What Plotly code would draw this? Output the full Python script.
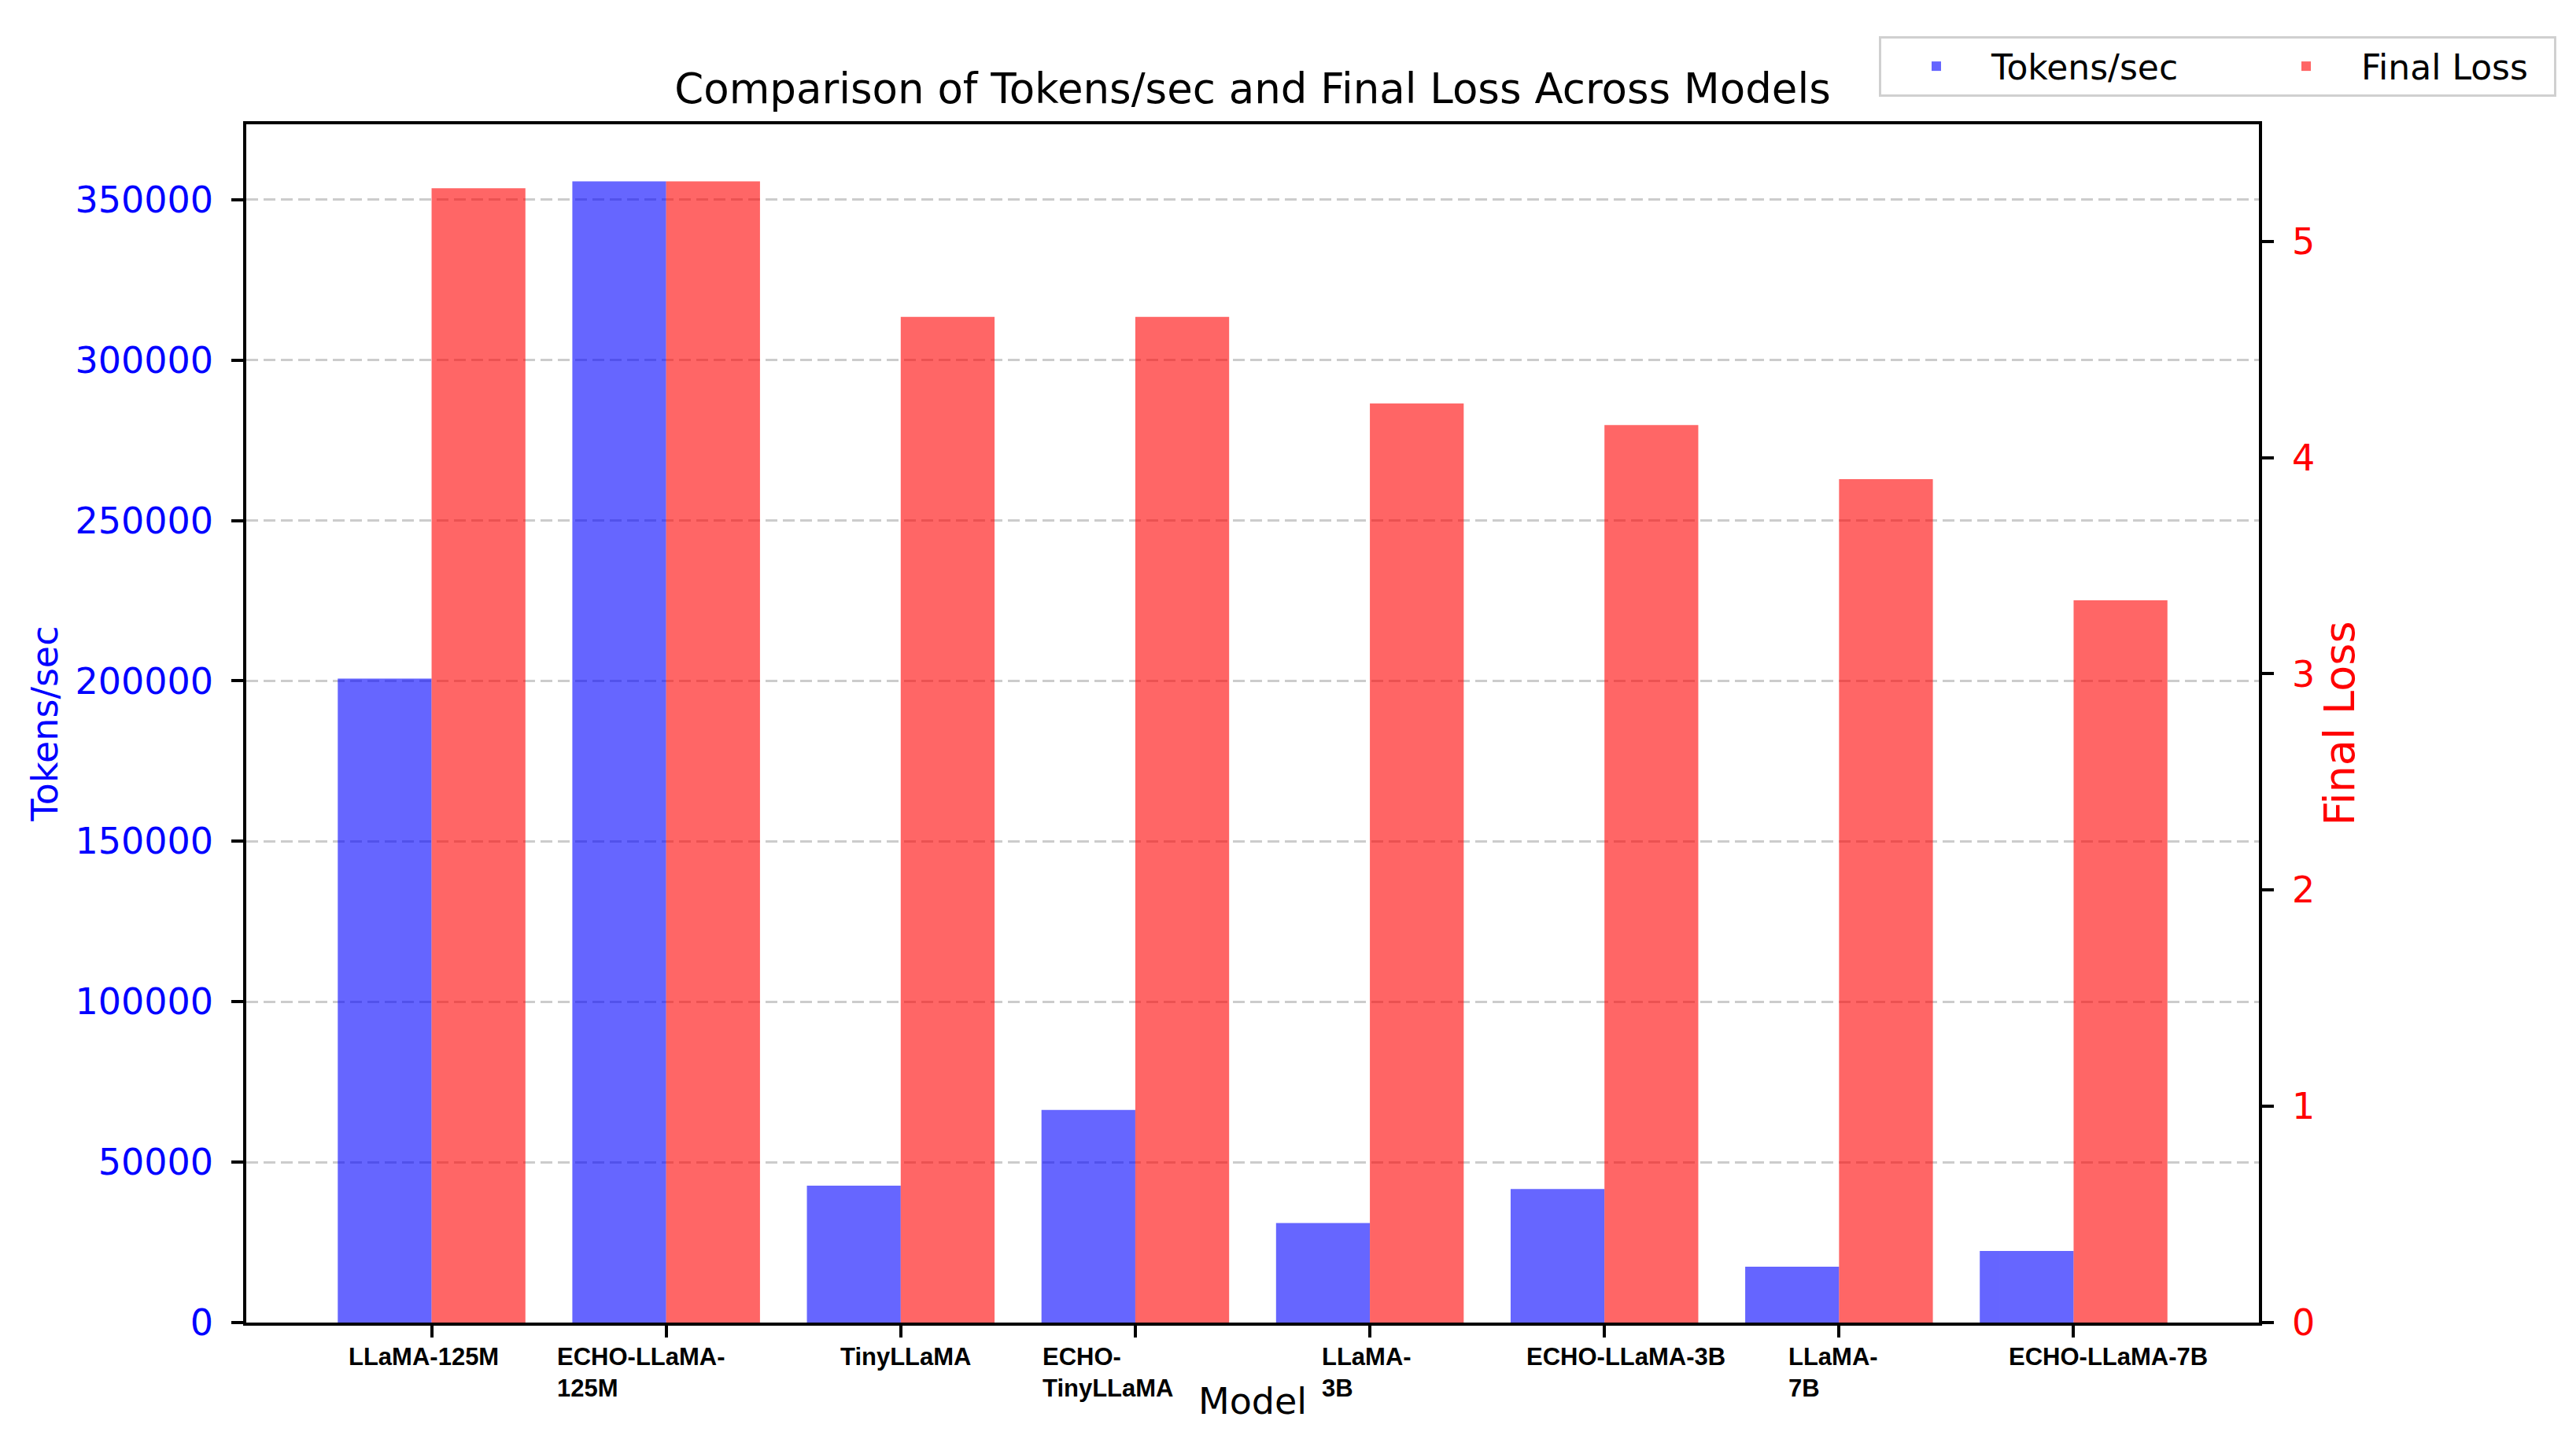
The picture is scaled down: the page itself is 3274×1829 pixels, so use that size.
import numpy as np
import plotly.graph_objects as go

# ---- data ----
models = ["LLaMA-125M", "ECHO-LLaMA-125M", "TinyLLaMA", "ECHO-TinyLLaMA",
          "LLaMA-3B", "ECHO-LLaMA-3B", "LLaMA-7B", "ECHO-LLaMA-7B"]
tick_labels = ["LLaMA-125M", "ECHO-LLaMA-<br>125M", "TinyLLaMA", "ECHO-<br>TinyLLaMA",
               "LLaMA-<br>3B", "ECHO-LLaMA-3B", "LLaMA-<br>7B", "ECHO-LLaMA-7B"]
tokens_per_sec = [200700, 355700, 42700, 66300, 31000, 41600, 17400, 22300]
final_loss = [5.245, 5.277, 4.65, 4.65, 4.25, 4.15, 3.90, 3.34]

# ---- style: horizontal nudge of each category label (px), as in the reference ----
label_xshift_px = [-10, -32, 7, -34, -4, 27, -7, 44]

W, H = 3274, 1829
ML, MR, MT, MB = 305, 411, 150, 156
PH = H - MT - MB
PW = W - ML - MR

x = np.arange(len(models))
bw = 0.4

fig = go.Figure()
fig.add_trace(go.Bar(
    x=x, y=tokens_per_sec, name="Tokens/sec", width=bw, offset=-bw,
    marker=dict(color="blue", line=dict(width=0)), opacity=0.6, yaxis="y",
    legendwidth=325,
))
fig.add_trace(go.Bar(
    x=x, y=final_loss, name="Final Loss", width=bw, offset=0,
    marker=dict(color="red", line=dict(width=0)), opacity=0.6, yaxis="y2",
    legendwidth=240,
))

base_font = "DejaVu Sans, Verdana, sans-serif"

# category labels under the ticks (lines left-aligned within each label block)
annotations = []
for xi, lab, dx in zip(x, tick_labels, label_xshift_px):
    annotations.append(dict(
        x=xi, xref="x", y=-24 / PH, yref="paper",
        text=f"<b>{lab}</b>", showarrow=False,
        xanchor="center", yanchor="top", align="left", xshift=dx,
        font=dict(family="Liberation Sans, Arial, sans-serif", size=31, color="black"),
    ))
annotations.append(dict(
    x=0.5, xref="paper", y=-100 / PH, yref="paper",
    text="Model", showarrow=False, xanchor="center", yanchor="middle",
    font=dict(family=base_font, size=46, color="black"),
))

fig.update_layout(
    width=W, height=H,
    margin=dict(l=ML, r=MR, t=MT, b=MB, autoexpand=False),
    paper_bgcolor="white", plot_bgcolor="white",
    barmode="overlay",
    font=dict(family=base_font, size=46, color="black"),
    title=dict(text="Comparison of Tokens/sec and Final Loss Across Models",
               x=0.5, xref="paper", xanchor="center",
               y=1 - 104 / H, yref="container", yanchor="middle",
               font=dict(size=53, color="black", family=base_font)),
    xaxis=dict(
        range=[-0.79, len(models) - 1 + 0.79],
        tickmode="array", tickvals=x, ticktext=tick_labels, showticklabels=False,
        ticks="outside", ticklen=15, tickwidth=3.5, tickcolor="black",
        showline=True, linecolor="black", linewidth=3.5, mirror=True,
        showgrid=False, zeroline=False,
        automargin=False,
    ),
    yaxis=dict(
        range=[0, max(tokens_per_sec) * 1.05],
        tickmode="linear", tick0=0, dtick=50000, tickformat="d",
        tickfont=dict(size=46, color="blue"),
        ticks="outside", ticklen=15, tickwidth=3.5, tickcolor="black",
        ticklabelstandoff=14,
        showline=True, linecolor="black", linewidth=3.5, mirror=True,
        showgrid=True, gridcolor="rgba(128,128,128,0.4)", gridwidth=3, griddash="15px,7px",
        zeroline=False,
        title=dict(text="Tokens/sec", font=dict(size=46, color="blue"), standoff=8),
        automargin=False,
    ),
    yaxis2=dict(
        overlaying="y", side="right",
        range=[0, max(final_loss) * 1.05],
        tickmode="linear", tick0=0, dtick=1,
        tickfont=dict(size=46, color="red"),
        ticks="outside", ticklen=15, tickwidth=3.5, tickcolor="black",
        ticklabelstandoff=14,
        showline=True, linecolor="black", linewidth=3.5,
        showgrid=False, zeroline=False,
        title=dict(text="Final Loss", font=dict(size=54, color="red"), standoff=8),
        automargin=False,
    ),
    legend=dict(
        orientation="h",
        x=(3241 - ML) / PW, xanchor="right",
        y=(H - MB - 38) / PH, yanchor="top",
        xref="paper", yref="paper",
        font=dict(size=44, color="black"),
        bgcolor="white", bordercolor="#d0d0d0", borderwidth=3,
        itemwidth=130, traceorder="normal",
    ),
    annotations=annotations,
    showlegend=True,
)

fig.write_html("out.html")
